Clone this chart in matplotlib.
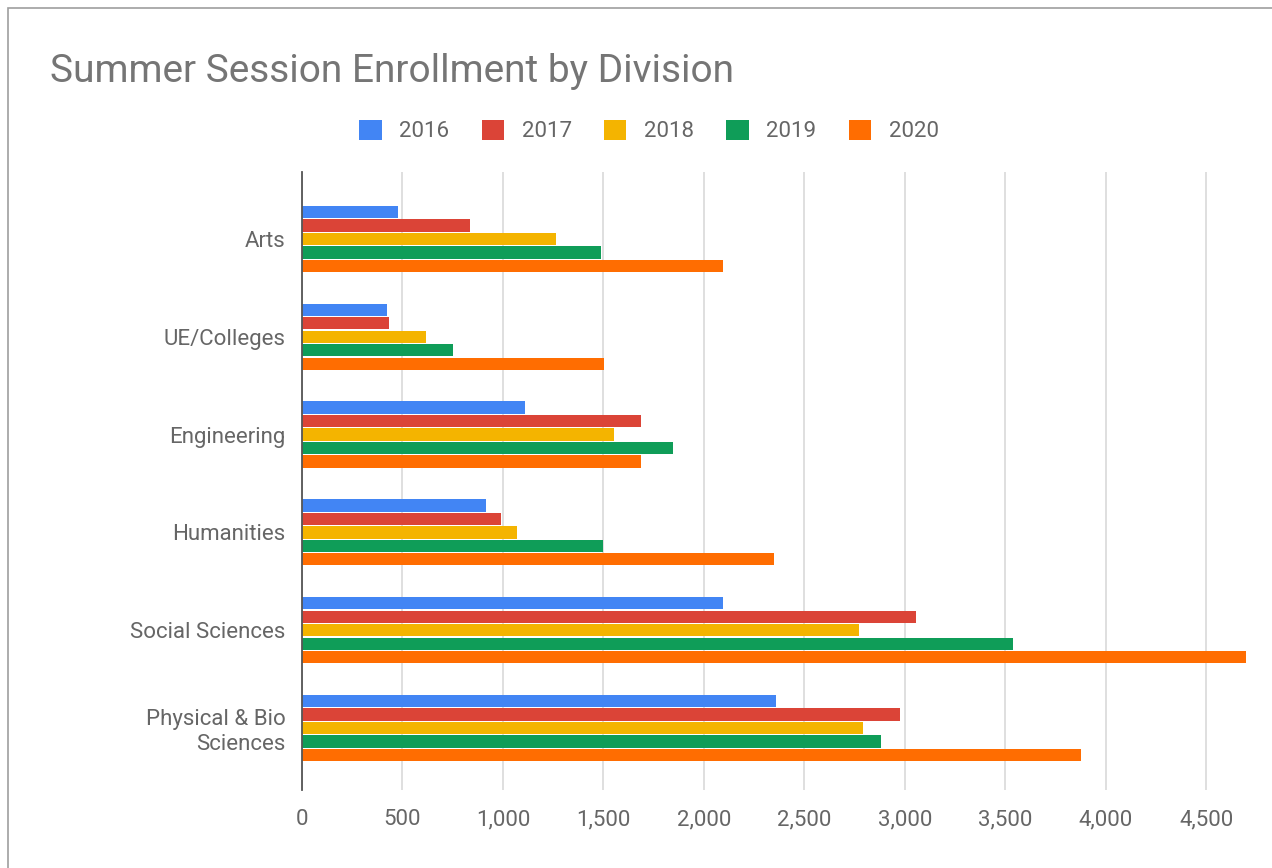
import matplotlib.pyplot as plt
import numpy as np
from matplotlib.patches import Rectangle
from matplotlib.ticker import FuncFormatter

plt.rcParams['font.family'] = ['Roboto', 'DejaVu Sans']

divisions = ['Arts', 'UE/Colleges', 'Engineering', 'Humanities', 'Social Sciences', 'Physical & Bio\nSciences']
years = ['2016', '2017', '2018', '2019', '2020']
colors = ['#4285F4', '#DB4437', '#F4B400', '#0F9D58', '#FF6D01']

v2016 = [478, 423, 1109, 915, 2095, 2358]
v2017 = [836, 433, 1687, 990, 3055, 2975]
v2018 = [1264, 617, 1552, 1070, 2771, 2791]
v2019 = [1488, 751, 1846, 1498, 3537, 2881]
v2020 = [2095, 1502, 1687, 2348, 4697, 3876]
series = [v2016, v2017, v2018, v2019, v2020]

fig = plt.figure(figsize=(12.72, 8.68), dpi=100)
ax = fig.add_axes([0.2374, 0.0899, 0.7456, 0.7119])

# light frame like the screenshot
fig.patches.append(Rectangle((8/1272, -0.1), 1.2, 1 - 8/868 + 0.1, transform=fig.transFigure,
                             fill=False, edgecolor='#9e9e9e', linewidth=1.2))

y = np.arange(len(divisions))
pitch = 0.138
for i, (vals, c) in enumerate(zip(series, colors)):
    ax.barh(y + (i - 2) * pitch, vals, height=0.125, color=c, label=years[i], zorder=3)

ax.set_ylim(5.634, -0.685)
ax.set_xlim(0, 4720)
ax.set_xticks(np.arange(0, 5000, 500))
ax.xaxis.set_major_formatter(FuncFormatter(lambda v, p: f'{int(v):,}'))
ax.set_yticks(y)
ax.set_yticklabels(divisions, ha='right', multialignment='right')
ax.tick_params(axis='both', length=0, labelsize=16, colors='#666666')
ax.tick_params(axis='x', pad=14)
ax.tick_params(axis='y', pad=12)
ax.grid(axis='x', color='#d9d9d9', linewidth=1.2, zorder=0)
for s in ['top', 'right', 'bottom']:
    ax.spines[s].set_visible(False)
ax.spines['left'].set_color('#555555')
ax.spines['left'].set_linewidth(1.3)
ax.spines['left'].set_zorder(4)

fig.text(50/1272, 1 - 71/868, 'Summer Session Enrollment by Division', fontsize=28,
         color='#757575', va='center', ha='left')

ax.legend(loc='center', bbox_to_anchor=(649/1272, 1 - 131/868), bbox_transform=fig.transFigure,
          ncol=5, frameon=False, fontsize=16, handlelength=1.0, handleheight=1.0,
          columnspacing=1.45, handletextpad=0.8, labelcolor='#666666')

fig.savefig('out.png', dpi=100)
